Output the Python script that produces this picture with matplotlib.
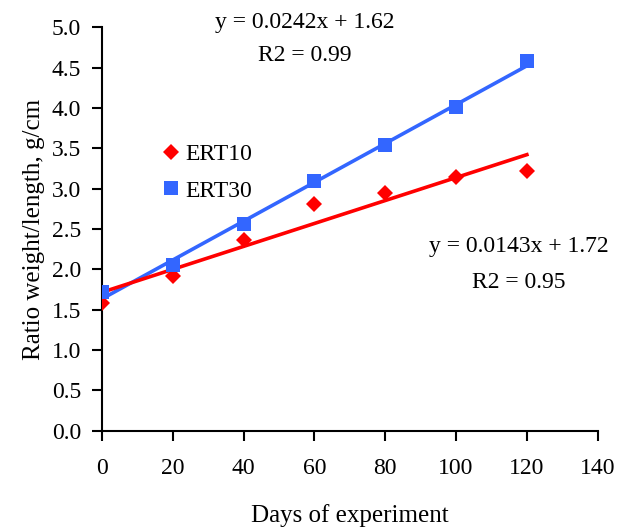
import numpy as np
import matplotlib.pyplot as plt

plt.rcParams['font.family'] = ['Liberation Serif', 'DejaVu Serif']

days = [0, 20, 40, 60, 80, 100, 120]
ert10 = [1.58, 1.92, 2.36, 2.81, 2.94, 3.15, 3.22]
ert30 = [1.72, 2.05, 2.56, 3.09, 3.54, 4.01, 4.58]

red = '#FF0000'
blue = '#3366FF'
fs = 17

fig = plt.figure(figsize=(6.17, 5.31), dpi=100)
ax = fig.add_axes([0.1653, 0.1889, 0.8034, 0.7597])

x = np.array(days, dtype=float)
k10 = np.polyfit(x, ert10, 1)
k30 = np.polyfit(x, ert30, 1)

ax.plot(x, np.polyval(k30, x), color=blue, lw=2.6, zorder=2)
ax.plot(x, np.polyval(k10, x), color=red, lw=2.6, zorder=2)
ax.plot(days, ert10, 'D', color=red, ms=8, mew=0, label='ERT10', zorder=3)
ax.plot(days, ert30, 's', color=blue, ms=9.5, mew=0, label='ERT30', zorder=3)

ax.set_xlim(0, 140)
ax.set_ylim(0, 5)
ax.set_xticks(range(0, 141, 20))
ax.set_yticks(np.arange(0, 5.01, 0.5))
ax.set_yticklabels(['%.1f' % v for v in np.arange(0, 5.01, 0.5)])

for s in ['top', 'right']:
    ax.spines[s].set_visible(False)
for s in ['left', 'bottom']:
    ax.spines[s].set_linewidth(1.5)

ax.tick_params(axis='both', direction='out', length=7, width=1.5, labelsize=fs)
ax.tick_params(axis='x', pad=13)
ax.tick_params(axis='y', pad=8)

ax.set_xlabel('Days of experiment', fontsize=fs + 1, labelpad=18)
ax.set_ylabel('Ratio weight/length, g/cm', fontsize=fs + 1, labelpad=5)

leg = ax.legend(loc='upper left', bbox_to_anchor=(0.08, 0.765), frameon=False,
                fontsize=fs, handlelength=0.7, handletextpad=0.25, labelspacing=0.65)

ax.text(0.41, 1.012, 'y = 0.0242x + 1.62', transform=ax.transAxes, ha='center',
        va='center', fontsize=fs)
ax.text(0.41, 0.93, 'R2 = 0.99', transform=ax.transAxes, ha='center',
        va='center', fontsize=fs)
ax.text(0.84, 0.456, 'y = 0.0143x + 1.72', transform=ax.transAxes, ha='center',
        va='center', fontsize=fs)
ax.text(0.84, 0.368, 'R2 = 0.95', transform=ax.transAxes, ha='center',
        va='center', fontsize=fs)

fig.savefig('out.png', dpi=100)
